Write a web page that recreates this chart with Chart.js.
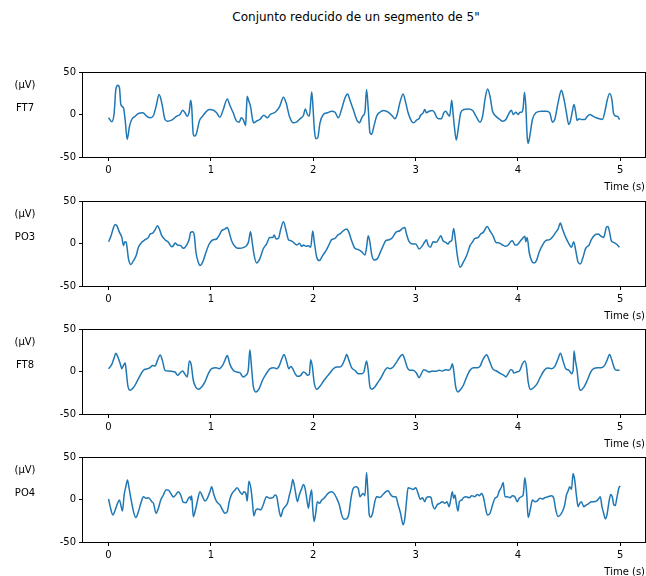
<!DOCTYPE html>
<html>
<head>
<meta charset="utf-8">
<script src="https://cdn.jsdelivr.net/npm/chart.js@4.4.1/dist/chart.umd.min.js"></script>
<style>
  body { margin: 0; background: #fff; width: 646px; height: 576px; overflow: hidden; position: relative; font-family: "DejaVu Sans", sans-serif; }
  #title { position: absolute; top: 10px; left: 0; width: 712px; text-align: center; font-size: 12px; color: #000; }
  canvas { position: absolute; left: 0; }
</style>
</head>
<body>
<div id="title">Conjunto reducido de un segmento de 5"</div>
<canvas id="c0" width="646" height="130"></canvas>
<canvas id="c1" width="646" height="130"></canvas>
<canvas id="c2" width="646" height="130"></canvas>
<canvas id="c3" width="646" height="130"></canvas>
<script>
// tick labels
const xTicks = [0, 1, 2, 3, 4, 5];
const yTicks = [-50, 0, 50];
const channels = ['FT7', 'PO3', 'FT8', 'PO4'];

// [time (s), amplitude (µV)]
const ft7 = [[0,-3.9],[0.032,-8.6],[0.055,2.0],[0.071,29.3],[0.091,34.3],[0.107,31.2],[0.12,11.7],[0.146,7.8],[0.162,-5.9],[0.182,-29.3],[0.205,-13.7],[0.227,-5.9],[0.26,-2.0],[0.292,1.2],[0.335,2.0],[0.374,-2.0],[0.406,-3.9],[0.439,-1.2],[0.465,9.8],[0.494,23.4],[0.52,13.7],[0.552,-5.9],[0.575,-7.8],[0.617,-6.6],[0.666,-2.0],[0.698,0],[0.724,5.1],[0.747,2.0],[0.77,-2.0],[0.789,3.9],[0.802,16.8],[0.812,9.8],[0.828,-23.4],[0.845,-25.4],[0.861,-21.5],[0.887,-7.8],[0.919,-2.0],[0.952,3.1],[0.984,5.9],[1.023,5.1],[1.056,2.0],[1.088,-3.1],[1.121,5.9],[1.16,18.3],[1.186,10.5],[1.218,2.0],[1.251,-7.8],[1.277,-9.0],[1.296,-3.9],[1.316,-5.9],[1.339,-12.9],[1.348,7.8],[1.355,21.5],[1.371,15.6],[1.387,9.8],[1.407,-5.9],[1.42,-9.8],[1.446,-7.8],[1.478,-5.9],[1.517,-0.8],[1.552,-3.9],[1.579,0],[1.628,2.7],[1.67,9.0],[1.709,20.3],[1.735,13.7],[1.767,-2.0],[1.806,-9.8],[1.839,-8.6],[1.878,-4.3],[1.904,-1.2],[1.923,6.6],[1.943,0],[1.962,-2.0],[1.985,26.5],[1.995,13.7],[2.011,-17.6],[2.024,-28.5],[2.044,-27.3],[2.066,-9.8],[2.099,0],[2.138,2.0],[2.18,3.9],[2.213,2.7],[2.245,-3.9],[2.278,6.6],[2.31,19.5],[2.336,24.2],[2.359,16.8],[2.391,5.9],[2.424,-5.9],[2.45,-9.8],[2.482,-2.0],[2.505,2.7],[2.521,29.3],[2.538,5.9],[2.554,-21.5],[2.57,-23.4],[2.593,-13.7],[2.619,-2.0],[2.651,2.7],[2.69,4.7],[2.732,2.7],[2.775,-2.0],[2.797,-5.1],[2.82,0],[2.846,13.7],[2.878,24.2],[2.904,13.7],[2.927,2.0],[2.96,-7.8],[2.982,-9.8],[3.009,-6.6],[3.034,-4.7],[3.047,-1.2],[3.074,2.0],[3.09,5.9],[3.106,2.0],[3.132,3.9],[3.164,4.7],[3.187,2.0],[3.203,-2.7],[3.229,-5.1],[3.252,-5.1],[3.275,2.0],[3.294,3.9],[3.317,0],[3.333,-2.0],[3.353,16.8],[3.366,2.0],[3.382,-17.6],[3.398,-30.0],[3.418,-15.6],[3.441,2.0],[3.473,5.9],[3.515,6.6],[3.558,4.7],[3.59,-2.0],[3.629,-9.0],[3.655,-2.0],[3.678,17.6],[3.704,30.0],[3.727,21.5],[3.752,3.9],[3.785,-2.0],[3.824,-5.9],[3.85,-7.8],[3.882,-5.9],[3.915,2.0],[3.937,5.1],[3.954,0],[3.98,2.7],[4.002,0],[4.019,2.7],[4.035,2.7],[4.051,7.8],[4.064,26.1],[4.077,9.8],[4.09,-25.4],[4.1,-33.9],[4.116,-25.4],[4.142,-5.9],[4.175,2.0],[4.23,3.9],[4.279,3.9],[4.311,2.0],[4.337,-9.0],[4.36,-5.9],[4.392,13.7],[4.425,28.5],[4.447,19.5],[4.474,2.0],[4.496,-11.7],[4.513,-7.8],[4.532,3.9],[4.548,11.7],[4.565,2.0],[4.578,-7.0],[4.597,-5.1],[4.62,-5.9],[4.652,-5.9],[4.675,-2.7],[4.701,0],[4.733,-2.0],[4.766,-3.9],[4.798,-5.1],[4.825,-5.9],[4.847,2.0],[4.87,15.6],[4.896,24.6],[4.918,17.6],[4.935,1.2],[4.961,-2.0],[4.977,-2.7],[4.993,-5.9]];

const po3 = [[0,2.1],[0.023,8.4],[0.049,18.9],[0.065,22.4],[0.081,20.9],[0.107,13.1],[0.13,7.2],[0.146,-2.5],[0.159,2.1],[0.172,1.4],[0.195,-18.1],[0.218,-24.8],[0.244,-20.1],[0.27,-14.2],[0.292,-4.5],[0.325,1.4],[0.357,4.5],[0.39,7.2],[0.406,11.1],[0.432,12.3],[0.455,16.2],[0.478,20.9],[0.497,17.0],[0.52,9.2],[0.552,4.5],[0.585,1.4],[0.617,-3.7],[0.634,-2.5],[0.65,0.6],[0.673,-1.8],[0.705,-2.5],[0.731,-5.7],[0.763,-1.8],[0.789,5.3],[0.802,13.1],[0.822,13.8],[0.838,9.2],[0.854,-10.3],[0.877,-22.0],[0.894,-25.9],[0.919,-22.0],[0.952,-10.3],[0.984,-0.6],[1.017,4.1],[1.056,5.3],[1.082,9.9],[1.105,15.0],[1.137,17.0],[1.16,18.9],[1.179,13.1],[1.202,3.3],[1.244,-4.5],[1.283,-5.7],[1.322,-4.5],[1.348,-2.5],[1.368,2.1],[1.387,13.8],[1.404,1.4],[1.42,-12.3],[1.446,-22.8],[1.478,-18.1],[1.511,-6.4],[1.543,-0.6],[1.576,7.0],[1.605,7.2],[1.618,9.9],[1.637,5.3],[1.66,6.0],[1.683,17.0],[1.709,25.5],[1.735,15.0],[1.758,4.5],[1.784,3.3],[1.806,1.4],[1.839,-1.8],[1.865,0.2],[1.888,-3.3],[1.904,-1.8],[1.93,-3.3],[1.953,-2.5],[1.975,-4.5],[1.995,14.6],[2.011,1.4],[2.034,-16.2],[2.06,-20.1],[2.092,-14.2],[2.125,-8.4],[2.157,-0.6],[2.18,4.5],[2.213,6.0],[2.239,9.9],[2.268,11.9],[2.294,15.0],[2.326,17.0],[2.349,13.1],[2.375,3.3],[2.407,-5.7],[2.44,-7.2],[2.472,-9.6],[2.505,-13.5],[2.521,-4.5],[2.537,9.2],[2.554,1.4],[2.57,-12.3],[2.593,-19.3],[2.625,-18.1],[2.658,-9.6],[2.684,-2.5],[2.709,3.3],[2.742,4.5],[2.775,7.2],[2.807,13.1],[2.846,15.0],[2.872,17.7],[2.895,18.9],[2.911,11.1],[2.937,2.1],[2.969,-0.6],[3.002,-0.6],[3.034,-6.4],[3.067,-2.5],[3.09,2.1],[3.106,4.5],[3.122,-1.8],[3.145,-4.5],[3.171,2.1],[3.203,1.4],[3.229,6.0],[3.246,9.2],[3.268,3.3],[3.294,1.4],[3.317,-0.6],[3.333,2.1],[3.353,3.3],[3.372,17.7],[3.392,1.4],[3.408,-14.2],[3.434,-27.9],[3.467,-22.0],[3.499,-14.2],[3.532,-2.5],[3.558,2.1],[3.58,6.0],[3.613,7.2],[3.635,11.1],[3.661,13.1],[3.7,20.1],[3.726,15.0],[3.759,8.4],[3.785,1.4],[3.817,0.6],[3.85,-1.8],[3.882,-3.3],[3.905,-1.8],[3.928,2.1],[3.947,3.3],[3.97,-1.8],[3.993,-1.4],[4.019,2.1],[4.045,6.0],[4.068,8.4],[4.077,2.1],[4.09,7.2],[4.11,-10.3],[4.133,-20.1],[4.155,-22.8],[4.181,-20.1],[4.207,-10.3],[4.24,-1.8],[4.272,3.3],[4.311,4.5],[4.343,8.4],[4.369,13.1],[4.392,17.0],[4.415,24.0],[4.435,17.0],[4.467,7.2],[4.5,-0.6],[4.523,-4.5],[4.545,2.1],[4.565,-8.4],[4.588,-22.0],[4.61,-24.0],[4.636,-16.2],[4.662,-5.7],[4.695,-1.8],[4.717,4.5],[4.75,9.9],[4.782,11.1],[4.815,8.4],[4.838,7.2],[4.864,18.9],[4.88,20.1],[4.896,13.1],[4.912,3.3],[4.935,1.4],[4.961,-0.6],[4.993,-4.5]];

const ft8 = [[0,3.3],[0.032,8.4],[0.055,16.2],[0.071,21.6],[0.091,17.0],[0.114,9.2],[0.13,3.3],[0.146,7.2],[0.162,9.9],[0.172,1.4],[0.188,-16.2],[0.211,-22.0],[0.244,-18.9],[0.276,-12.3],[0.309,-4.5],[0.341,1.4],[0.38,3.3],[0.406,4.5],[0.432,7.2],[0.455,6.4],[0.478,13.1],[0.504,19.3],[0.526,13.1],[0.552,1.4],[0.585,0.6],[0.617,0.2],[0.65,-0.6],[0.676,-4.5],[0.698,-1.8],[0.724,0.6],[0.747,-3.3],[0.77,-6.4],[0.789,12.3],[0.806,9.2],[0.828,-10.3],[0.851,-18.1],[0.877,-20.9],[0.91,-18.1],[0.942,-12.3],[0.975,-2.5],[1.007,3.3],[1.049,4.5],[1.082,3.3],[1.114,7.2],[1.137,13.1],[1.16,18.9],[1.186,8.4],[1.218,1.4],[1.251,-0.6],[1.283,-1.4],[1.316,-6.4],[1.342,-4.5],[1.365,1.4],[1.381,25.5],[1.397,5.3],[1.413,-16.2],[1.439,-24.0],[1.472,-20.1],[1.504,-10.3],[1.537,-3.3],[1.579,3.3],[1.611,4.5],[1.644,3.3],[1.67,7.2],[1.693,15.0],[1.715,20.1],[1.741,11.1],[1.761,3.3],[1.78,6.0],[1.8,3.3],[1.823,-2.5],[1.845,-5.7],[1.878,-4.5],[1.904,-0.6],[1.93,-2.5],[1.943,-4.5],[1.962,-3.3],[1.975,13.8],[1.992,5.3],[2.008,-12.3],[2.034,-20.9],[2.066,-17.4],[2.099,-11.5],[2.131,-6.4],[2.164,-1.8],[2.196,3.3],[2.229,5.3],[2.261,5.3],[2.287,8.4],[2.31,15.0],[2.326,20.1],[2.349,13.1],[2.375,4.5],[2.407,1.4],[2.44,-2.5],[2.472,-2.5],[2.495,-0.6],[2.521,12.3],[2.537,1.4],[2.554,-18.1],[2.57,-20.9],[2.602,-18.1],[2.635,-12.3],[2.667,-6.4],[2.7,1.4],[2.723,4.5],[2.749,3.3],[2.781,5.3],[2.814,11.1],[2.846,17.0],[2.872,20.1],[2.895,13.8],[2.917,5.3],[2.943,1.4],[2.976,1.4],[3.008,-1.8],[3.034,-7.2],[3.057,-2.5],[3.08,2.1],[3.099,1.4],[3.132,-0.6],[3.164,0.6],[3.197,0.2],[3.229,1.4],[3.262,0.6],[3.294,2.1],[3.327,1.4],[3.346,4.5],[3.359,9.2],[3.372,1.4],[3.392,-18.1],[3.415,-24.0],[3.434,-22.0],[3.467,-16.2],[3.499,-6.4],[3.532,1.4],[3.564,4.5],[3.603,4.5],[3.629,6.0],[3.655,13.1],[3.694,19.7],[3.72,13.1],[3.752,3.3],[3.791,0.6],[3.83,-2.5],[3.863,-4.5],[3.882,-6.4],[3.905,-2.5],[3.928,2.1],[3.947,1.4],[3.96,-1.8],[3.986,-0.6],[4.019,1.4],[4.045,9.2],[4.068,12.3],[4.084,5.3],[4.1,-12.3],[4.123,-21.3],[4.155,-18.9],[4.188,-14.2],[4.22,-6.4],[4.253,0.6],[4.285,4.1],[4.328,3.3],[4.36,6.0],[4.392,15.0],[4.415,21.6],[4.441,12.3],[4.467,3.3],[4.5,1.4],[4.523,-2.5],[4.539,1.4],[4.548,24.0],[4.561,13.1],[4.578,1.4],[4.594,-16.2],[4.613,-22.0],[4.646,-18.1],[4.678,-10.3],[4.711,-0.6],[4.74,3.3],[4.782,4.5],[4.815,4.5],[4.847,7.2],[4.87,13.1],[4.896,20.1],[4.918,13.1],[4.944,3.3],[4.967,1.4],[4.993,1.4]];

const po4 = [[0,0.6],[0.016,-8.4],[0.042,-18.1],[0.065,-12.3],[0.088,-4.5],[0.107,-0.6],[0.12,-6.4],[0.136,-13.5],[0.153,6.0],[0.169,15.0],[0.185,22.8],[0.201,13.1],[0.221,-0.6],[0.244,-14.2],[0.266,-21.3],[0.292,-14.2],[0.315,-4.5],[0.341,3.3],[0.367,1.4],[0.39,2.1],[0.422,-2.5],[0.439,-4.5],[0.465,-16.2],[0.487,-10.3],[0.51,-0.6],[0.536,5.3],[0.562,11.5],[0.585,11.1],[0.608,7.2],[0.634,2.9],[0.66,6.0],[0.682,9.2],[0.705,5.3],[0.731,-3.3],[0.757,-3.7],[0.78,1.4],[0.796,3.3],[0.806,-0.6],[0.812,4.5],[0.828,-20.1],[0.845,-14.2],[0.867,-2.5],[0.893,9.2],[0.919,3.3],[0.942,-1.8],[0.965,1.4],[0.991,9.2],[1.007,15.0],[1.03,5.3],[1.056,-2.5],[1.088,-6.4],[1.114,-12.3],[1.137,-16.2],[1.16,-14.2],[1.179,-2.5],[1.202,6.0],[1.235,11.1],[1.257,13.8],[1.283,9.2],[1.306,6.0],[1.322,9.2],[1.342,7.2],[1.355,-1.8],[1.371,21.6],[1.391,13.1],[1.404,-0.6],[1.42,-19.3],[1.439,-12.3],[1.462,-11.1],[1.485,-12.3],[1.511,-6.4],[1.543,3.3],[1.576,1.4],[1.605,2.1],[1.628,5.3],[1.644,3.3],[1.66,-8.4],[1.683,-20.1],[1.703,-12.3],[1.725,-8.4],[1.748,-4.5],[1.767,5.3],[1.784,13.1],[1.8,23.6],[1.823,11.1],[1.845,-2.5],[1.865,6.0],[1.888,13.1],[1.904,17.7],[1.92,13.1],[1.936,1.4],[1.953,-10.3],[1.969,3.3],[1.985,11.1],[1.995,-10.3],[2.008,-25.9],[2.024,-16.2],[2.04,-2.5],[2.06,-4.5],[2.083,-0.6],[2.105,1.4],[2.131,5.3],[2.157,8.4],[2.18,9.2],[2.203,7.2],[2.229,1.4],[2.255,-6.4],[2.278,-18.1],[2.3,-23.2],[2.326,-22.8],[2.349,-16.2],[2.369,1.4],[2.391,13.1],[2.417,15.0],[2.44,13.1],[2.456,3.3],[2.472,5.3],[2.488,7.2],[2.505,4.5],[2.521,31.8],[2.537,1.4],[2.547,-18.1],[2.56,-20.9],[2.58,-16.2],[2.602,-2.5],[2.619,3.3],[2.651,2.5],[2.677,5.3],[2.709,9.2],[2.732,10.3],[2.755,6.0],[2.781,3.3],[2.807,3.3],[2.83,-6.4],[2.853,-16.2],[2.879,-29.8],[2.895,-22.0],[2.911,-2.5],[2.927,13.8],[2.95,13.1],[2.976,11.9],[3.002,13.8],[3.024,7.2],[3.047,0.2],[3.067,2.1],[3.09,-2.5],[3.106,2.1],[3.132,3.3],[3.152,2.1],[3.165,-5.7],[3.187,-11.1],[3.21,-6.4],[3.236,-4.5],[3.262,-2.5],[3.285,-4.5],[3.307,-2.5],[3.327,-8.4],[3.34,-2.5],[3.359,9.2],[3.372,1.4],[3.385,5.3],[3.398,-4.5],[3.415,-13.5],[3.428,-2.5],[3.45,-0.6],[3.467,2.1],[3.493,3.3],[3.525,2.1],[3.548,4.5],[3.58,3.3],[3.603,6.0],[3.623,4.5],[3.645,7.2],[3.662,3.3],[3.678,-6.4],[3.701,-18.1],[3.727,-16.2],[3.752,-6.4],[3.775,1.4],[3.798,3.3],[3.817,9.9],[3.84,15.0],[3.856,20.1],[3.873,3.3],[3.895,3.3],[3.922,2.1],[3.947,4.5],[3.97,3.3],[3.993,-2.5],[4.012,1.4],[4.035,3.3],[4.051,5.3],[4.068,25.5],[4.084,9.2],[4.1,-21.3],[4.123,-10.3],[4.142,-0.6],[4.165,-2.5],[4.188,-1.8],[4.214,1.4],[4.24,0.6],[4.262,2.1],[4.295,3.3],[4.327,4.5],[4.35,1.4],[4.37,-12.3],[4.392,-20.1],[4.415,-18.1],[4.435,-14.2],[4.457,-6.4],[4.474,5.3],[4.49,9.9],[4.506,15.0],[4.523,11.9],[4.539,30.6],[4.555,22.8],[4.571,5.3],[4.588,-8.4],[4.604,-4.5],[4.62,-2.5],[4.643,-8.4],[4.669,-6.4],[4.695,-4.5],[4.717,-2.5],[4.74,-2.5],[4.766,-1.8],[4.792,1.4],[4.805,3.3],[4.821,-8.4],[4.838,-16.2],[4.854,-22.8],[4.87,-18.1],[4.89,-2.5],[4.906,6.0],[4.922,3.3],[4.935,-5.7],[4.951,-7.2],[4.967,2.1],[4.987,13.8],[5.0,15.8]];

const series = [ft7, po3, ft8, po4];
const axTops = [72, 201, 329, 457];
const FONT = '"DejaVu Sans", sans-serif';

// box around the axes plus the side labels and the x label
const framePlugin = {
    id: 'frame',
    afterDraw(chart, args, opts) {
        const ctx = chart.ctx;
        const a = chart.chartArea;
        ctx.save();
        ctx.strokeStyle = '#000';
        ctx.lineWidth = 1;
        ctx.strokeRect(Math.round(a.left) - 0.5, Math.round(a.top) + 0.5, Math.round(a.right - a.left) + 1, Math.round(a.bottom - a.top));
        ctx.fillStyle = '#000';
        ctx.font = '10px ' + FONT;
        ctx.textAlign = 'center';
        ctx.textBaseline = 'middle';
        ctx.fillText('(µV)', 25, a.top + 13);
        ctx.fillText(opts.name, 25, a.top + 36);
        ctx.textAlign = 'right';
        ctx.fillText('Time (s)', a.right, a.bottom + 30);
        ctx.restore();
    }
};

const tickGrid = { display: true, drawOnChartArea: false, drawTicks: true, tickLength: 4, color: '#000', lineWidth: 1 };

channels.forEach((name, i) => {
    const cv = document.getElementById('c' + i);
    cv.style.top = (axTops[i] - 10) + 'px';
    new Chart(cv, {
        type: 'line',
        data: {
            datasets: [{
                data: series[i].map(p => ({ x: p[0], y: p[1] })),
                borderColor: '#1f77b4',
                borderWidth: 1.5,
                pointRadius: 0,
                fill: false,
                cubicInterpolationMode: 'monotone'
            }]
        },
        options: {
            responsive: false,
            animation: false,
            devicePixelRatio: 1,
            layout: { padding: { top: 10, left: 0, right: 1, bottom: 0 } },
            plugins: { legend: { display: false }, tooltip: { enabled: false }, frame: { name: name } },
            scales: {
                x: {
                    type: 'linear',
                    min: -0.2496,
                    max: 5.2416,
                    afterBuildTicks: s => { s.ticks = xTicks.map(v => ({ value: v })); },
                    afterFit: s => { s.height = 35; },
                    grid: tickGrid,
                    border: { display: false },
                    ticks: { color: '#000', padding: 3, maxRotation: 0, font: { family: FONT, size: 10 } }
                },
                y: {
                    min: -50,
                    max: 50,
                    afterBuildTicks: s => { s.ticks = yTicks.map(v => ({ value: v })); },
                    afterFit: s => { s.width = 83; },
                    grid: tickGrid,
                    border: { display: false },
                    ticks: { color: '#000', padding: 3, font: { family: FONT, size: 10 } }
                }
            }
        },
        plugins: [framePlugin]
    });
});
</script>
</body>
</html>
